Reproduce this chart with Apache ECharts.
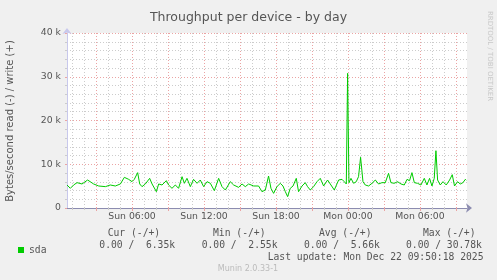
<!DOCTYPE html>
<html>
<head>
<meta charset="utf-8">
<script src="https://cdn.jsdelivr.net/npm/echarts@6/dist/echarts.min.js"></script>
<style>
html,body{margin:0;padding:0;background:#f0f0f0;}
#chart{width:497px;height:280px;}
</style>
</head>
<body>
<div id="chart"></div>
<script>
// Hours since Sun 00:00 (Sun Dec 21 2025)
const hours = [0.58,0.86,1.13,1.42,1.83,2.30,2.80,3.22,3.78,4.19,4.61,5.03,5.36,5.72,6.0,6.19,6.47,6.64,6.83,7.11,7.47,7.67,8.03,8.22,8.5,8.86,9.05,9.33,9.61,9.88,10.17,10.36,10.58,10.86,11.13,11.42,11.69,11.97,12.25,12.53,12.86,13.22,13.5,13.78,14.19,14.47,14.88,15.17,15.44,15.72,16.14,16.55,16.83,17.11,17.38,17.58,17.8,18.08,18.36,18.58,18.78,18.97,19.19,19.42,19.69,19.88,20.17,20.44,20.63,20.86,21.13,21.42,21.69,21.97,22.3,22.58,22.86,23.22,23.5,23.69,23.86,23.97,24.08,24.25,24.47,24.69,24.88,25.05,25.25,25.44,25.72,26.0,26.28,26.55,26.83,27.11,27.38,27.58,27.86,28.13,28.42,28.69,28.92,29.13,29.33,29.53,29.8,30.08,30.36,30.58,30.8,31.0,31.19,31.33,31.47,31.69,31.92,32.19,32.47,32.69,32.88,33.13,33.36,33.58,33.78,33.86];
// sda write throughput, k bytes/second
const sdaWrite = [5.26,4.5,5.26,5.79,5.49,6.4,5.49,5.03,4.88,5.26,5.03,5.49,7.01,6.55,6.02,6.55,8.08,5.49,4.88,5.49,6.78,5.49,3.73,5.49,5.26,6.25,5.26,4.5,5.26,4.5,7.16,5.64,6.78,4.88,6.55,5.64,6.4,4.88,6.02,5.64,3.96,6.78,4.88,4.11,6.02,5.26,4.72,5.49,4.88,5.49,5.03,5.03,3.73,4.11,7.31,4.5,3.35,4.88,5.64,5.03,3.73,2.59,4.5,5.03,6.78,3.73,5.03,5.79,4.88,4.11,4.88,6.02,6.78,5.03,6.4,5.26,4.11,6.4,6.55,6.02,5.49,30.78,5.79,6.78,5.64,6.02,7.16,11.6,6.02,5.26,5.03,5.64,6.4,5.49,5.79,5.79,7.92,5.79,5.64,6.02,5.49,5.26,6.55,6.25,8.08,5.79,5.64,5.26,6.78,5.26,6.78,5.03,6.78,13.1,6.4,5.26,6.02,5.26,6.4,7.62,5.03,6.02,5.49,5.79,6.55,6.35];
const xMin = 0.58, xMax = 33.92;
const majorHours = [3,6,9,12,15,18,21,24,27,30,33];
const minorHours = [1,2,4,5,7,8,10,11,13,14,16,17,19,20,22,23,25,26,28,29,31,32];
const labelHours = [6,12,18,24,30];
const labelTexts = ['Sun 06:00','Sun 12:00','Sun 18:00','Mon 00:00','Mon 06:00'];
const yTicks = [0,10,20,30,40];
const yTickLabels = ['0','10 k','20 k','30 k','40 k'];
const legendHeaders = ['Cur (-/+)','Min (-/+)','Avg (-/+)','Max (-/+)'];
const legendValues = ['0.00 /  6.35k','0.00 /  2.55k','0.00 /  5.66k','0.00 / 30.78k'];

const MONO = '"DejaVu Sans Mono", monospace';
const SANS = '"DejaVu Sans", sans-serif';
const TXT = '#555555';
const MAJOR = '#eba4a4';
const MINOR = '#cccccc';

const chart = echarts.init(document.getElementById('chart'), null, {renderer:'canvas'});

const headerX = [107.7, 213, 319, 423];
const valueX = [99.3, 201.7, 304, 406];
const graphics = [];
legendHeaders.forEach((t,i)=>graphics.push({type:'text', x:headerX[i], y:233.5, style:{text:t, font:'9.7px '+MONO, fill:TXT, textVerticalAlign:'middle', verticalAlign:'middle'}}));
legendValues.forEach((t,i)=>graphics.push({type:'text', x:valueX[i], y:245.7, style:{text:t, font:'9.7px '+MONO, fill:TXT, textVerticalAlign:'middle', verticalAlign:'middle'}}));
graphics.push({type:'text', x:483.5, y:257.8, style:{text:'Last update: Mon Dec 22 09:50:18 2025', font:'9.7px '+MONO, fill:TXT, textAlign:'right', align:'right', textVerticalAlign:'middle', verticalAlign:'middle'}});
graphics.push({type:'text', x:248, y:269.2, style:{text:'Munin 2.0.33-1', font:'8px '+SANS, fill:'#bbbbbb', textAlign:'center', align:'center', textVerticalAlign:'middle', verticalAlign:'middle'}});
graphics.push({type:'text', x:10.7, y:121, rotation:Math.PI/2, style:{text:'Bytes/second read (-) / write (+)', font:'10px '+SANS, fill:TXT, textAlign:'center', align:'center', textVerticalAlign:'middle', verticalAlign:'middle'}});
graphics.push({type:'text', x:489.5, y:56, rotation:-Math.PI/2, style:{text:'RRDTOOL / TOBI OETIKER', font:'7px '+SANS, fill:'#c8c8c8', textAlign:'center', align:'center', textVerticalAlign:'middle', verticalAlign:'middle'}});

const option = {
  backgroundColor:'#f0f0f0',
  animation:false,
  title:{text:'Throughput per device - by day', left:'center', top:6, textStyle:{fontFamily:SANS, fontSize:12.5, fontWeight:'normal', color:TXT}},
  legend:{data:['sda'], left:13, top:240, icon:'rect', itemWidth:6, itemHeight:6, itemGap:10, textStyle:{fontFamily:MONO, fontSize:9.7, color:TXT}, selectedMode:false},
  grid:{left:67, top:33, width:400, height:175, show:true, backgroundColor:'#ffffff', borderWidth:0},
  xAxis:[
    {type:'value', position:'bottom', min:xMin, max:xMax,
     axisLine:{show:true, lineStyle:{color:'#8c8cb0', width:1}, symbol:['none','arrow'], symbolSize:[7,6], symbolOffset:[0,5]},
     axisTick:{show:true, length:2, customValues:minorHours, lineStyle:{color:MINOR}},
     axisLabel:{show:false},
     splitLine:{show:true, lineStyle:{color:MINOR, type:[1,2], width:1}}},
    {type:'value', position:'bottom', min:xMin, max:xMax,
     axisLine:{show:false},
     axisTick:{show:true, length:3, customValues:majorHours, lineStyle:{color:MAJOR}},
     axisLabel:{show:true, customValues:labelHours, margin:4, fontFamily:SANS, fontSize:9.3, color:TXT,
       formatter:(v)=>{const i=labelHours.indexOf(Math.round(v)); return i>=0?labelTexts[i]:'';}},
     splitLine:{show:true, lineStyle:{color:MAJOR, type:[1,2], width:1}}}
  ],
  yAxis:{type:'value', min:0, max:40, interval:10,
    axisLine:{show:true, lineStyle:{color:'#c8c8ec', width:1}, symbol:['none','arrow'], symbolSize:[7,6], symbolOffset:[0,5]},
    axisTick:{show:true, length:2, lineStyle:{color:MAJOR}},
    minorTick:{show:true, splitNumber:5, length:2, lineStyle:{color:MINOR}},
    axisLabel:{margin:6, fontFamily:SANS, fontSize:9.3, color:TXT, formatter:(v)=>{const i=yTicks.indexOf(v); return i>=0?yTickLabels[i]:'';}},
    splitLine:{show:true, lineStyle:{color:MAJOR, type:[1,2], width:1}},
    minorSplitLine:{show:true, lineStyle:{color:MINOR, type:[1,2], width:1}}},
  series:[{
    name:'sda', type:'line', xAxisIndex:0, showSymbol:false, symbol:'none',
    color:'#00cc00', lineStyle:{color:'#00cc00', width:1}, z:5,
    data:hours.map((h,i)=>[h, sdaWrite[i]])
  }],
  graphic:graphics
};
chart.setOption(option);
</script>
</body>
</html>
